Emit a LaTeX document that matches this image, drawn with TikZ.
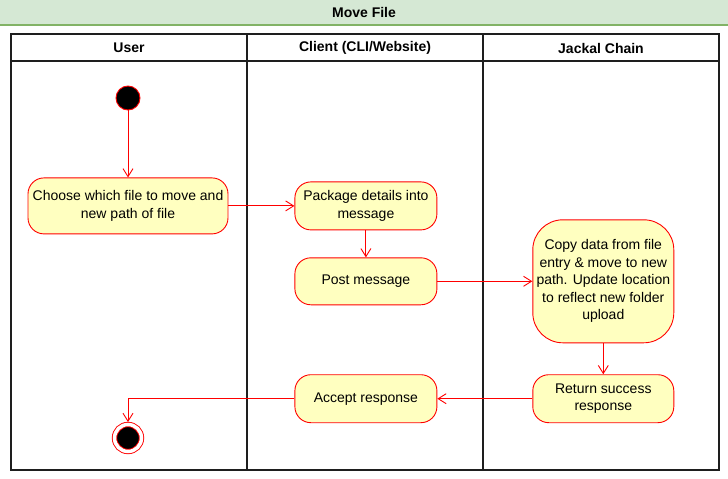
\documentclass[tikz,border=0pt]{standalone}
\usepackage{fontspec}
\setmainfont{Liberation Sans}
\usetikzlibrary{arrows.meta,positioning}
\definecolor{actFill}{RGB}{255,255,192}
\definecolor{actRed}{RGB}{255,0,0}
\definecolor{titleGreen}{RGB}{213,232,212}
\definecolor{titleLine}{RGB}{130,179,102}
\definecolor{laneGrey}{RGB}{30,30,30}
\tikzset{
  act/.style={draw=actRed, fill=actFill, rounded corners=16pt, line width=0.9pt,
              align=center, font=\fontsize{14}{17.5}\selectfont, inner sep=2pt,
              minimum width=142pt, minimum height=48pt},
  lanehead/.style={font=\fontsize{14}{16}\selectfont\bfseries},
  startdot/.style={circle, draw=actRed, fill=black, line width=0.9pt,
                   minimum size=24pt, inner sep=0pt},
  enddot/.style={circle, draw=actRed, fill=black, line width=0.9pt, double=white,
                 double distance=3.5pt, minimum size=27pt, inner sep=0pt},
  flow/.style={-{Straight Barb[length=8pt,width=10pt]}, draw=actRed, line width=0.9pt},
  lane/.style={draw=laneGrey, line width=1.1pt},
}

\begin{document}
\begin{tikzpicture}[x=1pt, y=-1pt]
\useasboundingbox (0,0) rectangle (728,479);

% title bar
\fill[titleGreen] (0,0) rectangle (728,25);
\draw[titleLine, line width=1.2pt] (0,25) -- (728,25);
\node[lanehead] (title) at (364,12.5) {Move File};

% swimlanes
\draw[lane] (11,34) rectangle (719,470);
\draw[lane] (11,61) -- (719,61);
\draw[lane] (247,34) -- (247,470);
\draw[lane] (483,34) -- (483,470);
\node[lanehead] (user)   at (129,48) {User};
\node[lanehead] (client) at (365,48) {Client (CLI/Website)};
\node[lanehead] (chain)  at (601,48) {Jackal Chain};

% activities
\node[startdot] (start) at (128,98) {};
\node[act, minimum width=200pt, minimum height=56pt, below=67pt of start] (choose)
  {Choose which file to move and\\new path of file};
\node[act, right=66pt of choose] (package) {Package details into\\message};
\node[act, minimum height=47pt, below=27pt of package] (post) {Post message};
\node[act, minimum width=141pt, minimum height=123pt, rounded corners=30pt,
      right=95pt of post] (copy)
  {Copy data from file\\entry \& move to new\\path. Update location\\to reflect new folder\\upload};
\node[act, minimum width=141pt, below=31pt of copy] (return) {Return success\\response};
\node[act, left=95pt of return] (accept) {Accept response};
\node[enddot] (stop) at (128,438) {};

\draw[flow] (start)   -- (choose);
\draw[flow] (choose)  -- (package);
\draw[flow] (package) -- (post);
\draw[flow] (post)    -- (copy);
\draw[flow] (copy)    -- (return);
\draw[flow] (return)  -- (accept);
\draw[flow, shorten >=2pt] (accept.west) -| (stop.north);
\end{tikzpicture}
\end{document}
